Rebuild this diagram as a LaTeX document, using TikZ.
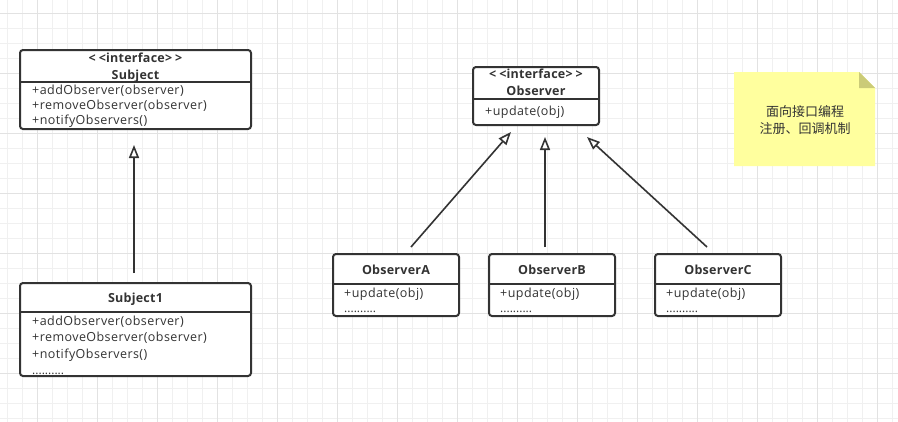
\documentclass[tikz,border=0pt]{standalone}
\usepackage{fontspec}
\setmainfont{Open Sans}[LetterSpace=3.5, BoldFeatures={LetterSpace=2}]
\newfontfamily\plainsans{Open Sans}
\newfontfamily\cjk{Noto Sans CJK SC}
\usetikzlibrary{arrows.meta}

\definecolor{inkgray}{HTML}{333333}
\definecolor{gridminor}{HTML}{F0F0F0}
\definecolor{gridmajor}{HTML}{E2E2E2}
\definecolor{notefill}{HTML}{FFFF9E}
\definecolor{notefold}{HTML}{CBCB78}

\tikzset{
  classbox/.style={draw=inkgray, line width=2pt, rounded corners=3pt, fill=white, outer sep=0pt, inner sep=0pt},
  divider/.style={draw=inkgray, line width=1.8pt},
  header/.style={anchor=base, inner sep=0pt, font=\fontsize{12.5}{14}\selectfont\bfseries},
  member/.style={anchor=base west, inner sep=0pt},
  ellipsis/.style={member, font=\plainsans\fontsize{12}{14}\selectfont},
  realize/.style={draw=inkgray, line width=1.6pt, -{Triangle[open, length=13pt, width=10pt, line width=1.6pt]}}
}

\begin{document}
\begin{tikzpicture}[x=1pt, y=-1pt, every node/.style={font=\fontsize{12.5}{14}\selectfont, text=inkgray}]

    \useasboundingbox[fill=white] (0,0) rectangle (898,421);

    % background grid
    \begin{scope}[shift={(7,13)}]
      \clip (-7,-13) rectangle (891,408);
      \draw[gridminor, line width=0.8pt, step=15pt] (-15,-15) grid (900,420);
    \end{scope}
    \begin{scope}[shift={(37,13)}]
      \clip (-37,-13) rectangle (861,408);
      \draw[gridmajor, line width=0.8pt, step=60pt] (-60,-60) grid (900,420);
    \end{scope}

    % Subject interface
    \node[classbox, minimum width=231pt, minimum height=79pt] (subject) at (135.5,89.5) {};
    \draw[divider] ([yshift=-32pt]subject.north west) -- ([yshift=-32pt]subject.north east);
    \node[header] (subjStereo) at (135.5,62.7) {<\kern3pt<interface>\kern3pt>};
    \node[header] (subjName) at (135.5,79) {Subject};
    \node[member] (subjAdd) at (32,94.5) {+addObserver(observer)};
    \node[member] (subjRemove) at (32,109.5) {+removeObserver(observer)};
    \node[member] (subjNotify) at (32,124.5) {+notifyObservers()};

    % Subject1 class
    \node[classbox, minimum width=231pt, minimum height=93pt] (subjectOne) at (135.5,329.5) {};
    \draw[divider] ([yshift=-29pt]subjectOne.north west) -- ([yshift=-29pt]subjectOne.north east);
    \node[header] (oneName) at (135.5,302.7) {Subject1};
    \node[member] (oneAdd) at (32,325.7) {+addObserver(observer)};
    \node[member] (oneRemove) at (32,341.7) {+removeObserver(observer)};
    \node[member] (oneNotify) at (32,358.3) {+notifyObservers()};
    \node[ellipsis] (oneMore) at (32,374) {..........};

    % Observer interface
    \node[classbox, minimum width=126pt, minimum height=58pt] (observer) at (536,96) {};
    \draw[divider] ([yshift=-32pt]observer.north west) -- ([yshift=-32pt]observer.north east);
    \node[header] (obsStereo) at (536,78.3) {<\kern3pt<interface>\kern3pt>};
    \node[header] (obsName) at (536,95.7) {Observer};
    \node[member] (obsUpdate) at (485,115.7) {+update(obj)};

    % ObserverA
    \node[classbox, minimum width=126pt, minimum height=62pt] (obsA) at (396,285) {};
    \draw[divider] ([yshift=-30pt]obsA.north west) -- ([yshift=-30pt]obsA.north east);
    \node[header] (aName) at (396,274) {ObserverA};
    \node[member] (aUpdate) at (344,297.7) {+update(obj)};
    \node[ellipsis] (aMore) at (344,312.3) {..........};

    % ObserverB
    \node[classbox, minimum width=126pt, minimum height=62pt] (obsB) at (552,285) {};
    \draw[divider] ([yshift=-30pt]obsB.north west) -- ([yshift=-30pt]obsB.north east);
    \node[header] (bName) at (552,274) {ObserverB};
    \node[member] (bUpdate) at (500,297.7) {+update(obj)};
    \node[ellipsis] (bMore) at (500,312.3) {..........};

    % ObserverC
    \node[classbox, minimum width=126pt, minimum height=62pt] (obsC) at (718,285) {};
    \draw[divider] ([yshift=-30pt]obsC.north west) -- ([yshift=-30pt]obsC.north east);
    \node[header] (cName) at (718,274) {ObserverC};
    \node[member] (cUpdate) at (666,297.7) {+update(obj)};
    \node[ellipsis] (cMore) at (666,312.3) {..........};

    % note
    \fill[notefill] (734,72) -- (859,72) -- (875,88) -- (875,166) -- (734,166) -- cycle;
    \fill[notefold] (859,72) -- (875,88) -- (859,88) -- cycle;
    \node[font=\cjk\fontsize{13}{16.5}\selectfont, align=center] (note) at (805,120) {面向接口编程\\注册、回调机制};

    % realization arrows
    \coordinate (oneTail) at (134,273);
    \coordinate (oneTip) at (134,145);
    \coordinate (aTail) at (411,247);
    \coordinate (aTip) at (511,132);
    \coordinate (bTail) at (545,247);
    \coordinate (bTip) at (545,137);
    \coordinate (cTail) at (707,247);
    \coordinate (cTip) at (587,137);
    \draw[realize] (oneTail) -- (oneTip);
    \draw[realize] (aTail) -- (aTip);
    \draw[realize] (bTail) -- (bTip);
    \draw[realize] (cTail) -- (cTip);

\end{tikzpicture}
\end{document}
